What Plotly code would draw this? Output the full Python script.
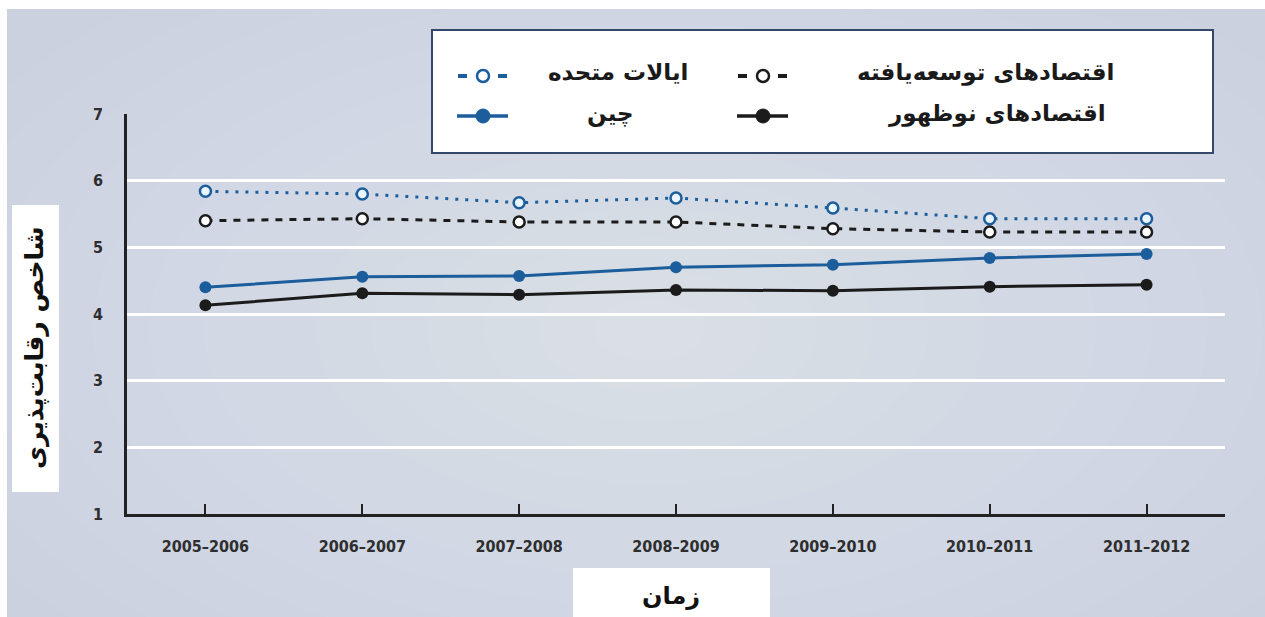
import plotly.graph_objects as go

# Competitiveness index by period
periods = ["2005–2006", "2006–2007", "2007–2008", "2008–2009",
           "2009–2010", "2010–2011", "2011–2012"]
united_states = [5.84, 5.80, 5.67, 5.74, 5.59, 5.43, 5.43]
developed = [5.40, 5.43, 5.38, 5.38, 5.28, 5.23, 5.23]
china = [4.40, 4.56, 4.57, 4.70, 4.74, 4.84, 4.90]
emerging = [4.13, 4.31, 4.29, 4.36, 4.35, 4.41, 4.44]
y_ticks = [1, 2, 3, 4, 5, 6, 7]

name_us = "ایالات متحده"
name_dev = "اقتصادهای توسعه‌یافته"
name_cn = "چین"
name_em = "اقتصادهای نوظهور"
y_title = "شاخص رقابت‌پذیری"
x_title = "زمان"

W, H = 1265, 617
L, R, T, B = 127, 1225, 114, 514

BLUE = "#1c5d9c"
BLACK = "#1b1b1b"
FA_FONT = "DejaVu Sans"
NUM_FONT = "Liberation Sans Narrow, DejaVu Sans Condensed, Arial Narrow, sans-serif"


def fx(px):
    return (px - L) / (R - L)


def fy(py):
    return (B - py) / (B - T)


fig = go.Figure()

fig.add_trace(go.Scatter(
    x=periods, y=united_states, mode="lines+markers", name=name_us,
    line=dict(color=BLUE, width=3, dash="3px,7px"),
    marker=dict(size=11, color="#e9f5ff", line=dict(color=BLUE, width=2.5)),
))
fig.add_trace(go.Scatter(
    x=periods, y=developed, mode="lines+markers", name=name_dev,
    line=dict(color=BLACK, width=3, dash="7px,7px"),
    marker=dict(size=11, color="white", line=dict(color=BLACK, width=2.5)),
))
fig.add_trace(go.Scatter(
    x=periods, y=china, mode="lines+markers", name=name_cn,
    line=dict(color=BLUE, width=3),
    marker=dict(size=12, color=BLUE),
))
fig.add_trace(go.Scatter(
    x=periods, y=emerging, mode="lines+markers", name=name_em,
    line=dict(color=BLACK, width=3),
    marker=dict(size=12, color=BLACK),
))

shapes = []
# soft bluish-grey backdrop, lighter toward the middle
shapes.append(dict(type="rect", xref="paper", yref="paper", layer="below",
                   x0=fx(7), x1=fx(W), y0=fy(H), y1=fy(9),
                   fillcolor="#cbd1de", line=dict(width=0)))
n_rings = 14
for i in range(n_rings):
    k = 1 - i / n_rings
    rx, ry = 780 * k, 430 * k
    cx, cy = 650, 330
    shapes.append(dict(type="circle", xref="paper", yref="paper", layer="below",
                       x0=fx(cx - rx), x1=fx(cx + rx), y0=fy(cy + ry), y1=fy(cy - ry),
                       fillcolor="rgba(255,255,255,0.035)", line=dict(width=0)))
# title boxes
shapes.append(dict(type="rect", xref="paper", yref="paper", layer="below",
                   x0=fx(12), x1=fx(59), y0=fy(492), y1=fy(205),
                   fillcolor="white", line=dict(width=0)))
shapes.append(dict(type="rect", xref="paper", yref="paper", layer="below",
                   x0=fx(573), x1=fx(770), y0=fy(H), y1=fy(568),
                   fillcolor="white", line=dict(width=0)))
# legend frame
shapes.append(dict(type="rect", xref="paper", yref="paper", layer="above",
                   x0=fx(432), x1=fx(1213), y0=fy(153), y1=fy(30),
                   fillcolor="white", line=dict(color="#34496a", width=2)))


def legend_sample(cx, cy, color, hollow):
    out = []
    if hollow:
        for a, b in [(cx - 25, cx - 16), (cx + 15, cx + 24)]:
            out.append(dict(type="line", xref="paper", yref="paper", layer="above",
                            x0=fx(a), x1=fx(b), y0=fy(cy), y1=fy(cy),
                            line=dict(color=color, width=4)))
        out.append(dict(type="circle", xref="paper", yref="paper", layer="above",
                        xsizemode="pixel", ysizemode="pixel",
                        xanchor=fx(cx), yanchor=fy(cy),
                        x0=-6, x1=6, y0=-6, y1=6,
                        fillcolor="white", line=dict(color=color, width=2.5)))
    else:
        out.append(dict(type="line", xref="paper", yref="paper", layer="above",
                        x0=fx(cx - 26), x1=fx(cx + 25), y0=fy(cy), y1=fy(cy),
                        line=dict(color=color, width=3.5)))
        out.append(dict(type="circle", xref="paper", yref="paper", layer="above",
                        xsizemode="pixel", ysizemode="pixel",
                        xanchor=fx(cx), yanchor=fy(cy),
                        x0=-7, x1=7, y0=-7, y1=7,
                        fillcolor=color, line=dict(color=color, width=1)))
    return out


shapes += legend_sample(483, 76, BLUE, True)
shapes += legend_sample(763, 76, BLACK, True)
shapes += legend_sample(483, 116, BLUE, False)
shapes += legend_sample(763, 116, BLACK, False)

annotations = []
leg_font = dict(family=FA_FONT, size=23, color="#1a1a1a")
for text, xr, yc in [(name_us, 690, 72), (name_dev, 1116, 72),
                     (name_cn, 636, 113), (name_em, 1108, 113)]:
    annotations.append(dict(text=f"<b>{text}</b>", xref="paper", yref="paper",
                            x=fx(xr), y=fy(yc), xanchor="right", yanchor="middle",
                            showarrow=False, font=leg_font))
annotations.append(dict(text=f"<b>{y_title}</b>", xref="paper", yref="paper",
                        x=fx(35), y=fy(348), xanchor="center", yanchor="middle",
                        textangle=-90, showarrow=False,
                        font=dict(family=FA_FONT, size=25, color="#111111")))
annotations.append(dict(text=f"<b>{x_title}</b>", xref="paper", yref="paper",
                        x=fx(671), y=fy(596), xanchor="center", yanchor="middle",
                        showarrow=False,
                        font=dict(family=FA_FONT, size=24, color="#111111")))

fig.update_layout(
    width=W, height=H,
    margin=dict(l=L, r=W - R, t=T, b=H - B, pad=0),
    paper_bgcolor="white",
    plot_bgcolor="rgba(0,0,0,0)",
    showlegend=False,
    shapes=shapes,
    annotations=annotations,
    xaxis=dict(
        type="category", range=[-0.5, 6.5],
        showgrid=False, zeroline=False,
        showline=True, linecolor="#222222", linewidth=2.5,
        ticks="inside", ticklen=10, tickwidth=2, tickcolor="#222222",
        ticklabelstandoff=16,
        tickfont=dict(family=NUM_FONT, size=16, color="#2e2e2e", weight="bold"),
    ),
    yaxis=dict(
        range=[1, 7], tickvals=y_ticks,
        showgrid=True, gridcolor="white", gridwidth=2.5,
        zeroline=False,
        showline=True, linecolor="#222222", linewidth=2.5,
        ticks="", ticklabelstandoff=18,
        tickfont=dict(family=NUM_FONT, size=16, color="#2e2e2e", weight="bold"),
    ),
)

fig.write_html("out.html")
